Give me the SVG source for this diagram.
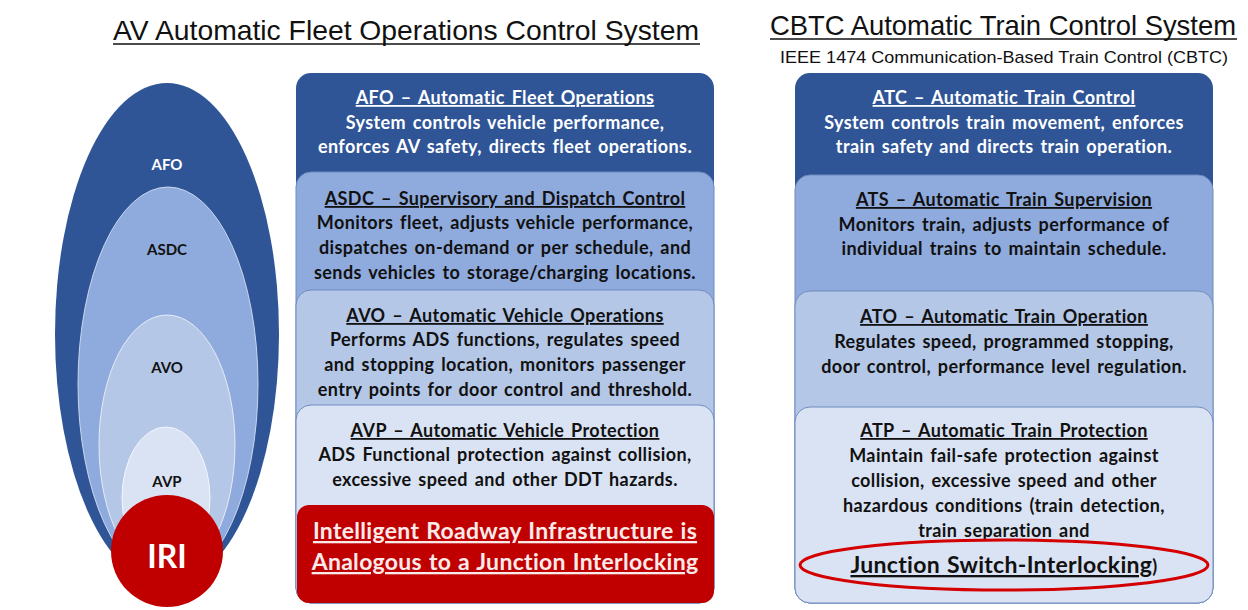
<svg xmlns="http://www.w3.org/2000/svg" width="1248" height="610" viewBox="0 0 1248 610">
<style>
.hdr{font-family:"Liberation Sans",Arial,sans-serif;fill:#111;text-anchor:middle}
.t{font-family:Lato,"Liberation Sans",sans-serif;font-weight:bold;font-size:18px;letter-spacing:0.4px;word-spacing:2px;text-anchor:middle;fill:#111}
.el{font-family:Lato,"Liberation Sans",sans-serif;font-weight:bold;font-size:15px;text-anchor:middle;fill:#111}
.w{fill:#fff}
.u{text-decoration:underline}
.big{font-size:23px;letter-spacing:0.3px;word-spacing:1px}
.pink{fill:#FBEAEA}
.p0{fill:#2F5597}
.p1{fill:#8FAADC;stroke:#6F8CC0;stroke-width:1}
.p2{fill:#B4C7E7;stroke:#6F8CC0;stroke-width:1}
.p3{fill:#DAE3F3;stroke:#6F8CC0;stroke-width:1}
.red{fill:#C00000}
</style>
<rect width="1248" height="610" fill="#fff"/>
<g id="headers">
<text class="hdr" x="406" y="40" font-size="28" textLength="586" lengthAdjust="spacingAndGlyphs">AV Automatic Fleet Operations Control System</text>
<line x1="113" y1="44" x2="700" y2="44" stroke="#111" stroke-width="1.5"/>
<text class="hdr" x="1003" y="35" font-size="28" textLength="466" lengthAdjust="spacingAndGlyphs">CBTC Automatic Train Control System</text>
<line x1="770" y1="39" x2="1237" y2="39" stroke="#111" stroke-width="1.5"/>
<text class="hdr" x="1004" y="63" font-size="17" textLength="448" lengthAdjust="spacingAndGlyphs">IEEE 1474 Communication-Based Train Control (CBTC)</text>
</g>
<g id="onion">
<ellipse cx="167" cy="334" rx="112" ry="251" fill="#2F5597"/>
<ellipse cx="168" cy="384" rx="90" ry="197" fill="#8FAADC" stroke="#C9D6EE" stroke-width="1"/>
<ellipse cx="167" cy="445" rx="68" ry="130" fill="#B4C7E7" stroke="#E6ECF7" stroke-width="1"/>
<ellipse cx="166" cy="498" rx="44" ry="71" fill="#DAE3F3" stroke="#F3F6FB" stroke-width="1"/>
<circle cx="167" cy="551" r="56" fill="#C00000"/>
<text class="el w" x="167" y="170">AFO</text>
<text class="el" x="167" y="255">ASDC</text>
<text class="el" x="167" y="373">AVO</text>
<text class="el" x="167" y="487">AVP</text>
<text x="167" y="568" text-anchor="middle" font-family="Lato,'Liberation Sans',sans-serif" font-weight="bold" font-size="32" fill="#fff">IRI</text>
</g>
<g id="av-panels">
<g id="afo"><rect class="p0" x="296" y="73" width="418" height="530" rx="15"/>
<text class="t w u" x="505" y="104">AFO – Automatic Fleet Operations</text>
<text class="t w" x="505" y="129">System controls vehicle performance,</text>
<text class="t w" x="505" y="153">enforces AV safety, directs fleet operations.</text></g>
<g id="asdc"><rect class="p1" x="296" y="172" width="418" height="431" rx="15"/>
<text class="t u" x="505" y="205">ASDC –  Supervisory and Dispatch Control</text>
<text class="t" x="505" y="229">Monitors fleet, adjusts vehicle performance,</text>
<text class="t" x="505" y="254">dispatches on-demand or per schedule, and</text>
<text class="t" x="505" y="279">sends vehicles to storage/charging  locations.</text></g>
<g id="avo"><rect class="p2" x="296" y="290" width="418" height="313" rx="15"/>
<text class="t u" x="505" y="322">AVO – Automatic Vehicle Operations</text>
<text class="t" x="505" y="346">Performs ADS functions, regulates speed</text>
<text class="t" x="505" y="371">and stopping location, monitors passenger</text>
<text class="t" x="505" y="396">entry points for door control and threshold.</text></g>
<g id="avp"><rect class="p3" x="296" y="405" width="418" height="198" rx="15"/>
<text class="t u" x="505" y="437">AVP – Automatic Vehicle Protection</text>
<text class="t" x="505" y="461">ADS Functional protection against collision,</text>
<text class="t" x="505" y="486">excessive speed and other DDT hazards.</text></g>
<g id="iri"><rect class="red" x="297" y="505" width="417" height="98" rx="12"/>
<text class="t big u pink" x="505" y="539">Intelligent Roadway Infrastructure is</text>
<text class="t big u pink" x="505" y="570">Analogous to a Junction Interlocking</text></g>
</g>
<g id="cbtc-panels">
<g id="atc"><rect class="p0" x="795" y="73" width="418" height="530" rx="15"/>
<text class="t w u" x="1004" y="104">ATC – Automatic Train Control</text>
<text class="t w" x="1004" y="129">System controls train movement, enforces</text>
<text class="t w" x="1004" y="153">train safety and  directs train operation.</text></g>
<g id="ats"><rect class="p1" x="795" y="175" width="418" height="428" rx="15"/>
<text class="t u" x="1004" y="206">ATS – Automatic Train Supervision</text>
<text class="t" x="1004" y="231">Monitors train, adjusts performance of</text>
<text class="t" x="1004" y="255">individual trains to maintain schedule.</text></g>
<g id="ato"><rect class="p2" x="795" y="291" width="418" height="312" rx="15"/>
<text class="t u" x="1004" y="323">ATO – Automatic Train Operation</text>
<text class="t" x="1004" y="348">Regulates speed, programmed stopping,</text>
<text class="t" x="1004" y="373">door control, performance level regulation.</text></g>
<g id="atp"><rect class="p3" x="795" y="407" width="418" height="196" rx="15"/>
<text class="t u" x="1004" y="437">ATP – Automatic Train Protection</text>
<text class="t" x="1004" y="462">Maintain fail-safe protection against</text>
<text class="t" x="1004" y="487">collision, excessive speed and other</text>
<text class="t" x="1004" y="512">hazardous conditions (train detection,</text>
<text class="t" x="1004" y="537">train separation and</text>
<text class="t big" x="1004" y="573"><tspan class="u">Junction Switch-Interlocking</tspan><tspan font-size="18">)</tspan></text>
<ellipse cx="1004" cy="565" rx="204" ry="25" fill="none" stroke="#D40000" stroke-width="3"/></g>
</g>
</svg>
